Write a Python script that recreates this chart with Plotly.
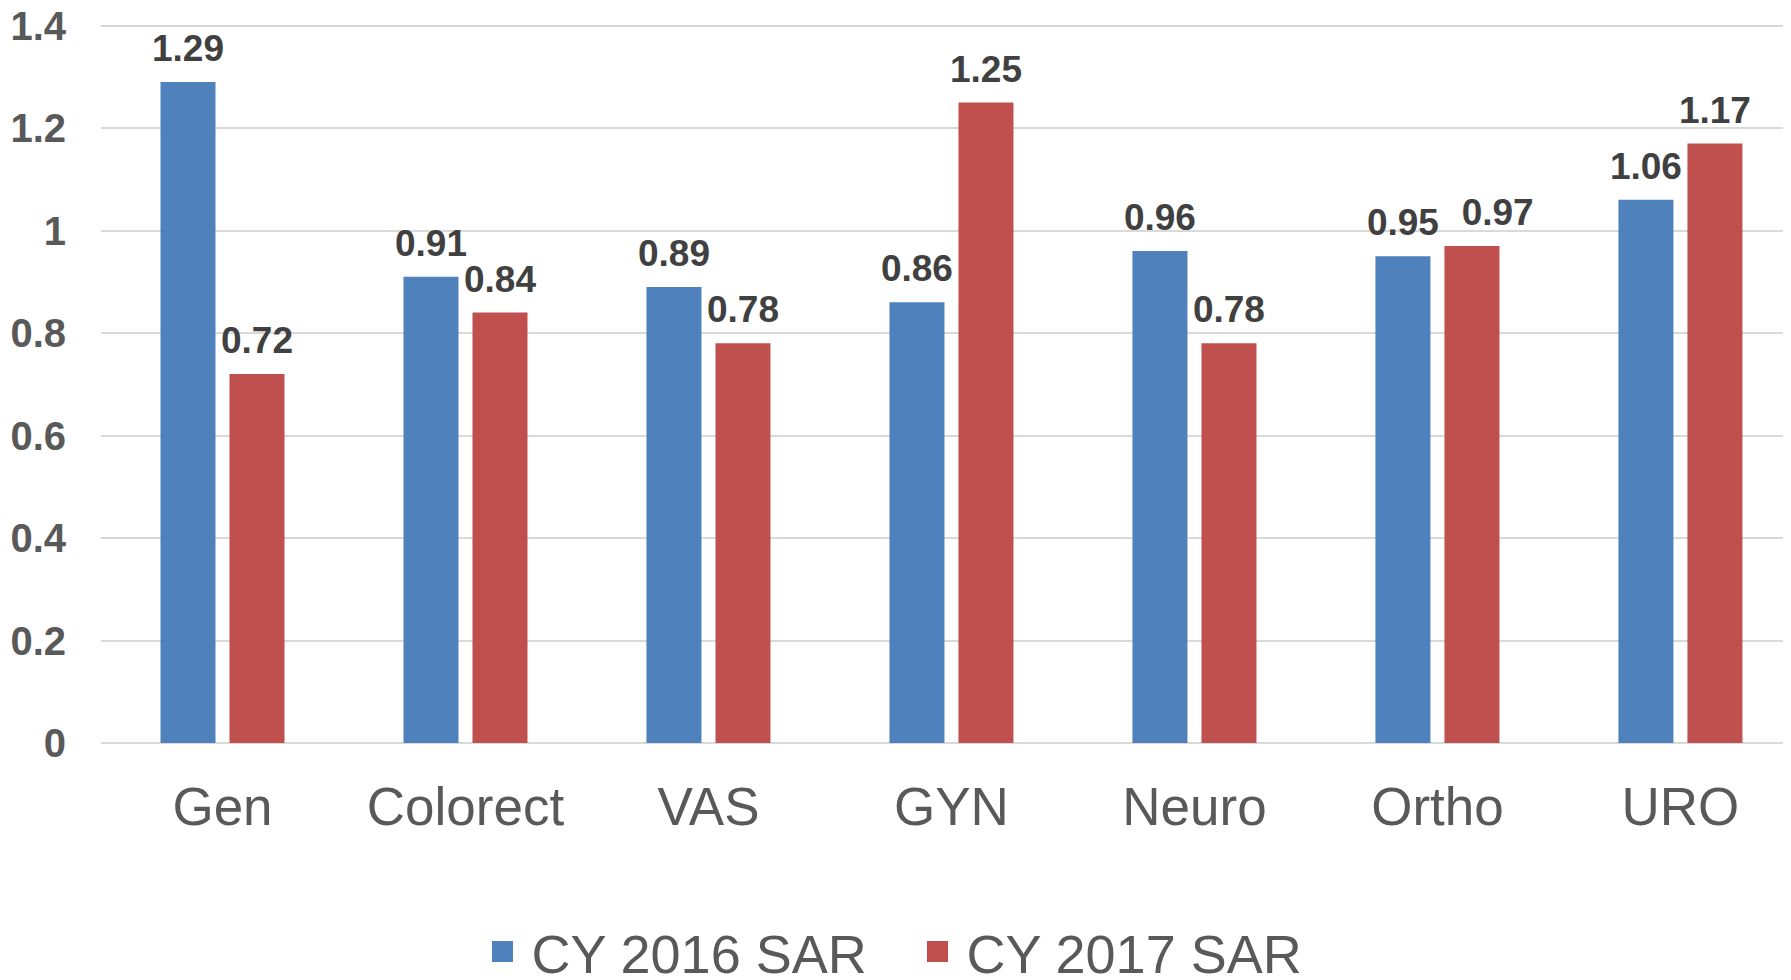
import plotly.graph_objects as go

categories = ["Gen", "Colorect", "VAS", "GYN", "Neuro", "Ortho", "URO"]
sar_2016 = [1.29, 0.91, 0.89, 0.86, 0.96, 0.95, 1.06]
sar_2017 = [0.72, 0.84, 0.78, 1.25, 0.78, 0.97, 1.17]
series_names = ["CY 2016 SAR", "CY 2017 SAR"]
colors = ["#4F81BD", "#C0504D"]
y_ticks = [0, 0.2, 0.4, 0.6, 0.8, 1, 1.2, 1.4]

# label nudges (number of leading no-break spaces) to avoid overlap, as in the original
label_pad = {("CY 2017 SAR", "Ortho"): 5}

FONT = "Liberation Sans, Arial, sans-serif"

# the page body has an 8px margin, so the figure is sized to fit the window exactly
W, H = 1783, 972

fig = go.Figure()
for i, (name, vals, col) in enumerate(zip(series_names, [sar_2016, sar_2017], colors)):
    fig.add_trace(go.Bar(
        x=categories, y=vals, name=name, marker=dict(color=col, line=dict(width=0)),
        offsetgroup=str(i), showlegend=False, legendgroup=name,
    ))
    labels = ["\u00a0" * label_pad.get((name, c), 0) + f"{v:.2f}" for c, v in zip(categories, vals)]
    fig.add_trace(go.Scatter(
        x=categories, y=vals, mode="markers+text", name=name, legendgroup=name,
        offsetgroup=str(i), showlegend=False, hoverinfo="skip",
        marker=dict(size=17, color="rgba(0,0,0,0)"),
        text=labels, textposition="top center",
        textfont=dict(family=FONT, size=37, color="#404040", weight="bold"),
        cliponaxis=False,
    ))
    fig.add_trace(go.Scatter(
        x=[None], y=[None], mode="markers", name=name, legendgroup=name,
        marker=dict(symbol="square", size=16, color=col, line=dict(color=col, width=8)),
    ))

fig.update_layout(
    width=W, height=H,
    margin=dict(l=93, r=0, t=16, b=237, autoexpand=False),
    paper_bgcolor="white", plot_bgcolor="white",
    barmode="group", bargap=0.432, bargroupgap=0.203,
    scattermode="group", scattergap=0.432,
    font=dict(family=FONT, color="#595959"),
    legend=dict(orientation="h", xref="container", yref="container",
                x=(474.5 - 9) / W, xanchor="left", y=28 / H, yanchor="middle",
                font=dict(family=FONT, size=54, color="#595959"),
                itemsizing="trace", itemwidth=48, entrywidth=372,
                entrywidthmode="pixels"),
)
fig.update_xaxes(
    range=[-0.5, 6.455],
    showgrid=False, showline=False, ticks="", ticklabelstandoff=28,
    tickfont=dict(family=FONT, size=53, color="#595959"),
)
fig.update_yaxes(
    range=[0, 1.403], tickvals=y_ticks, ticktext=[f"{t:g}" for t in y_ticks],
    showgrid=True, gridcolor="#D9D9D9", gridwidth=2,
    zeroline=True, zerolinecolor="#D9D9D9", zerolinewidth=2,
    showline=False, ticks="", ticklabelstandoff=34, ticklabeloverflow="allow",
    tickfont=dict(family=FONT, size=40, color="#595959", weight="bold"),
)

fig.write_html("out.html")
